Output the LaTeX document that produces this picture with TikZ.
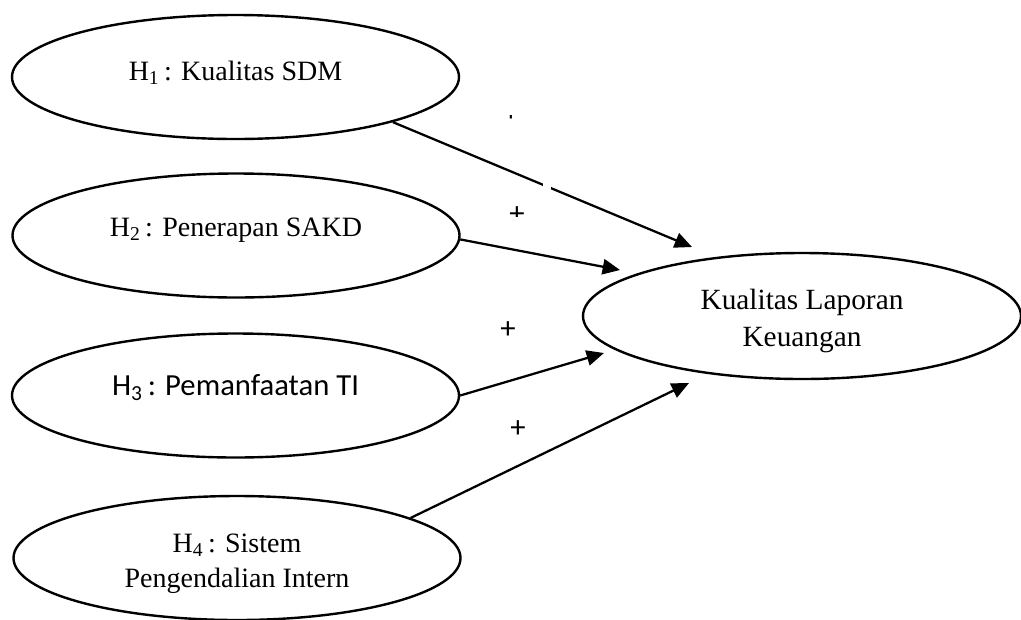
\documentclass[tikz,border=0pt]{standalone}
\usepackage{fontspec}
\setmainfont{Liberation Serif}
\newfontfamily\calib{Carlito}
\usetikzlibrary{shapes.geometric,arrows.meta}
\newcommand\placetext[2]{\raisebox{#1}[0pt][0pt]{#2}}
\tikzset{
  hyp/.style={ellipse,draw,line width=1.8pt,inner sep=0pt,
    minimum width=447*0.75pt,minimum height=124*0.75pt,align=center,
    font=\fontsize{21}{26.25}\selectfont},
  conn/.style={line width=1.7pt,-{Triangle[length=13pt,width=11.5pt]}},
  sign/.style={inner sep=0pt,font=\calib\fontsize{23}{26}\selectfont}
}
\begin{document}
\begin{tikzpicture}[x=0.75pt,y=-0.75pt]
\useasboundingbox (0,0) rectangle (1021,619);
\node[hyp] (h1) at (235.5,77) {\placetext{-2.5pt}{H\textsubscript{1}\,: Kualitas SDM}};
\node[hyp] (h2) at (236,235.5) {\placetext{-0.5pt}{H\textsubscript{2}\,: Penerapan SAKD}};
\node[hyp] (h3) at (235.5,395.5) {\placetext{0pt}{\calib\fontsize{23}{26}\selectfont H\textsubscript{3}\,: Pemanfaatan TI}};
\node[hyp] (h4) at (237,558) {\placetext{-21.75pt}{\begin{tabular}[b]{@{}c@{}}H\textsubscript{4}\,: Sistem\\Pengendalian Intern\end{tabular}}};
\node[hyp,minimum width=438*0.75pt,minimum height=126*0.75pt,
      font=\fontsize{22}{27.5}\selectfont] (y) at (802,316)
      {\placetext{-22.5pt}{\begin{tabular}[b]{@{}c@{}}Kualitas Laporan\\Keuangan\end{tabular}}};
\coordinate (t1) at (692,247);
\coordinate (t2) at (620,270);
\coordinate (t3) at (604,353);
\coordinate (t4) at (689,383);
\draw[conn] (h1.-16) -- (t1);
\draw[conn] (h2.-1.3) -- (t2);
\draw[conn] (h3.0) -- (t3);
\draw[conn] (h4.13.2) -- (t4);
\fill[white] (543,182) rectangle (551,193);
\begin{scope}
  \clip (500,115.5) rectangle (525,122);
  \node[sign] (p1) at (511,113.5) {+};
\end{scope}
\begin{scope}
  \clip (500,200) rectangle (530,216.5);
  \node[sign] (p2) at (517,215) {+};
\end{scope}
\node[sign] (p3) at (508,330) {+};
\node[sign] (p4) at (518,429) {+};
\end{tikzpicture}
\end{document}
